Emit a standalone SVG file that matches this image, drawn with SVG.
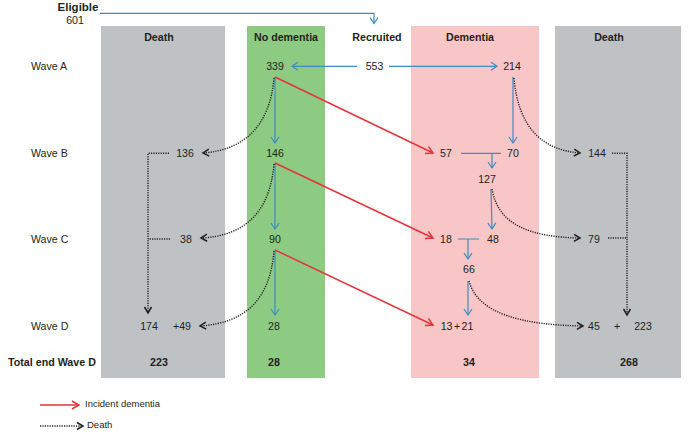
<svg xmlns="http://www.w3.org/2000/svg" width="688" height="433" viewBox="0 0 688 433">
<style>
text{font-family:"Liberation Sans",Arial,sans-serif;fill:#231f20;font-size:10.6px}
.b{font-weight:bold;font-size:10.7px}
.c{text-anchor:middle}
.blue{stroke:#3b8bc4;stroke-width:1.2;fill:none}
.red{stroke:#e5333b;stroke-width:1.5;fill:none}
.dot{stroke:#231f20;stroke-width:1.4;fill:none;stroke-dasharray:1.2 1.2}
</style>
<defs>
<marker id="ab" markerUnits="userSpaceOnUse" markerWidth="12" markerHeight="12" refX="8" refY="5" orient="auto"><path d="M2,1 L8,5 L2,9" fill="none" stroke="#3b8bc4" stroke-width="1.2"/></marker>
<marker id="ar" markerUnits="userSpaceOnUse" markerWidth="14" markerHeight="12" refX="9" refY="5" orient="auto"><path d="M2,1 L9,5 L2,9" fill="none" stroke="#e5333b" stroke-width="1.5"/></marker>
<marker id="ad" markerUnits="userSpaceOnUse" markerWidth="12" markerHeight="12" refX="8" refY="5" orient="auto"><path d="M2,1.5 L8,5 L2,8.5" fill="none" stroke="#231f20" stroke-width="1.5"/></marker>
</defs>
<rect width="688" height="433" fill="#fff"/>
<g id="panels">
<rect id="death-left" x="101" y="26" width="124" height="352" fill="#bfc2c5"/>
<rect id="no-dementia" x="247" y="26" width="78" height="352" fill="#8ecb82"/>
<rect id="dementia" x="411" y="26" width="128" height="352" fill="#f8c6c6"/>
<rect id="death-right" x="555" y="26" width="126" height="352" fill="#bfc2c5"/>
</g>
<g id="headers">
<text class="b c" x="78" y="11" style="font-size:11.5px">Eligible</text>
<text class="c" x="75" y="24">601</text>
<text class="b c" x="159" y="41">Death</text>
<text class="b c" x="286" y="41">No dementia</text>
<text class="b c" x="377" y="41">Recruited</text>
<text class="b c" x="470" y="41">Dementia</text>
<text class="b c" x="609" y="41">Death</text>
</g>
<g id="waves">
<text x="31" y="70">Wave A</text>
<text x="31" y="157">Wave B</text>
<text x="31" y="243">Wave C</text>
<text x="31" y="330">Wave D</text>
<text class="b" x="8" y="366">Total end Wave D</text>
</g>
<g id="nodes">
<g id="n339"><text class="c" x="275" y="70">339</text></g>
<g id="n553"><text class="c" x="374.5" y="70">553</text></g>
<g id="n214"><text class="c" x="512" y="70">214</text></g>
<g id="n136"><text class="c" x="185" y="157">136</text></g>
<g id="n146"><text class="c" x="275" y="157">146</text></g>
<g id="n57"><text class="c" x="446" y="157">57</text></g>
<g id="n70"><text class="c" x="513" y="157">70</text></g>
<g id="n144"><text class="c" x="597" y="157">144</text></g>
<g id="n127"><text class="c" x="487" y="183">127</text></g>
<g id="n38"><text class="c" x="186" y="243">38</text></g>
<g id="n90"><text class="c" x="275" y="243">90</text></g>
<g id="n18"><text class="c" x="446" y="243">18</text></g>
<g id="n48"><text class="c" x="493" y="243">48</text></g>
<g id="n79"><text class="c" x="594" y="243">79</text></g>
<g id="n66"><text class="c" x="469" y="273">66</text></g>
<g id="n174"><text class="c" x="149" y="330">174</text></g>
<g id="n49"><text class="c" x="182" y="330">+49</text></g>
<g id="n28"><text class="c" x="274" y="330">28</text></g>
<g id="n13-21"><text class="c" x="457" y="330" word-spacing="-1.5">13 + 21</text></g>
<g id="n45"><text class="c" x="594" y="330">45</text></g>
<g id="nplus"><text class="c" x="617" y="330">+</text></g>
<g id="n223r"><text class="c" x="643" y="330">223</text></g>
<g id="t223"><text class="b c" x="159" y="366">223</text></g>
<g id="t28"><text class="b c" x="274" y="366">28</text></g>
<g id="t34"><text class="b c" x="469" y="366">34</text></g>
<g id="t268"><text class="b c" x="629" y="366">268</text></g>
</g>
<g id="connectors">
<path class="blue" d="M100,13.3 H374 V23.5" marker-end="url(#ab)"/>
<path class="blue" d="M357,66.3 H292" marker-end="url(#ab)"/>
<path class="blue" d="M389,66.3 H497" marker-end="url(#ab)"/>
<path class="blue" d="M275,77 V143" marker-end="url(#ab)"/>
<path class="blue" d="M275,163 V229" marker-end="url(#ab)"/>
<path class="blue" d="M275,250 V315" marker-end="url(#ab)"/>
<path class="blue" d="M513,77 V143" marker-end="url(#ab)"/>
<path class="blue" d="M461,153.3 H501 M492,153.3 V168" marker-end="url(#ab)"/>
<path class="blue" d="M491,189 L492,229" marker-end="url(#ab)"/>
<path class="blue" d="M458,239 H479 M468,239 V259" marker-end="url(#ab)"/>
<path class="blue" d="M468,281 V315" marker-end="url(#ab)"/>
<path class="red" d="M275,77 L433,153" marker-end="url(#ar)"/>
<path class="red" d="M275,163 L433,238" marker-end="url(#ar)"/>
<path class="red" d="M275,250 L433,325" marker-end="url(#ar)"/>
<path class="dot" d="M274,78 C270,125 245,150 203,153" marker-end="url(#ad)"/>
<path class="dot" d="M274,164 C270,212 245,236 201,238" marker-end="url(#ad)"/>
<path class="dot" d="M274,251 C270,300 245,323 200,326" marker-end="url(#ad)"/>
<path class="dot" d="M514,78 C518,125 540,150 580,153" marker-end="url(#ad)"/>
<path class="dot" d="M492,189 C498,225 530,237 580,238" marker-end="url(#ad)"/>
<path class="dot" d="M469,281 C478,315 525,325 583,326" marker-end="url(#ad)"/>
<path class="dot" d="M169,153.3 H148 V313" marker-end="url(#ad)"/>
<path class="dot" d="M170,239 H148"/>
<path class="dot" d="M612,153.3 H627 V315" marker-end="url(#ad)"/>
<path class="dot" d="M608,238 H627"/>
</g>
<g id="legend">
<path class="red" d="M40,405 H79" marker-end="url(#ar)"/>
<text x="85" y="407" style="font-size:9.5px">Incident dementia</text>
<path class="dot" d="M40,426 H83" marker-end="url(#ad)"/>
<text x="87" y="428" style="font-size:9.5px">Death</text>
</g>
</svg>
